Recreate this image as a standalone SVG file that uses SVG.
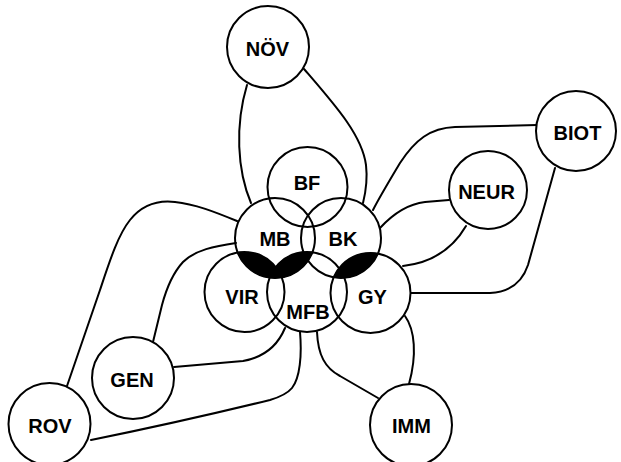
<svg xmlns="http://www.w3.org/2000/svg" width="621" height="462" viewBox="0 0 621 462">
<style>
.c{fill:#fff;stroke:#000;stroke-width:2}
.ci{fill:none;stroke:#000;stroke-width:2}
.e{fill:none;stroke:#000;stroke-width:2;stroke-linecap:round;stroke-linejoin:round}
.t{font-family:"Liberation Sans",Arial,sans-serif;font-weight:bold;font-size:20px;text-anchor:middle;fill:#000}
.d{fill:#000;stroke:#000;stroke-width:1}
</style>
<rect width="621" height="462" fill="#fff"/>
<g id="connectors">
<path class="e" d="M247 85 C235 125 237 170 251 203"/>
<path class="e" d="M304 69 C335 105 362 135 366 165 C368 182 365 195 363 203"/>
<path class="e" d="M537 125 L455 127 C430 128 415 140 400 163 C388 183 378 200 373 210"/>
<path class="e" d="M449 200 L425 202 C408 204 392 215 380 228"/>
<path class="e" d="M466 226 C452 250 430 263 403 266"/>
<path class="e" d="M555 168 L528 265 C522 283 510 292 490 293 L411 293"/>
<path class="e" d="M405 316 C415 330 417 355 409 384"/>
<path class="e" d="M317 332 C318 355 325 368 340 376 L378 398"/>
<path class="e" d="M285 328 C278 345 265 357 243 361 L174 367"/>
<path class="e" d="M300 332 C302 355 300 378 292 388 C287 394 280 397 270 400 Q180 422 91 440"/>
<path class="e" d="M67 386 L100 290 C110 260 118 235 130 220 C142 205 158 200 175 202 C195 204 215 212 237 221"/>
<path class="e" d="M236 243 C215 246 195 250 183 262 C172 274 166 290 162 305 L153 342"/>
</g>
<g id="overlaps">
<path class="d" d="M237.75 252.57 A40 40 0 0 0 312.34 252.36 A40 40 0 0 0 275.75 267.03 A40 40 0 0 0 237.75 252.57 Z"/>
<path class="d" d="M333.7 277.33 A40 40 0 0 0 377.8 253.67 A40 40 0 0 0 333.7 277.33 Z"/>
</g>
<g id="BF"><circle class="ci" cx="307.5" cy="187" r="40"/><text class="t" x="307" y="190">BF</text></g>
<g id="MB"><circle class="ci" cx="275" cy="238" r="40"/><text class="t" x="275" y="246">MB</text></g>
<g id="BK"><circle class="ci" cx="341" cy="238" r="40"/><text class="t" x="343" y="246">BK</text></g>
<g id="VIR"><circle class="ci" cx="244.5" cy="292" r="40"/><text class="t" x="242" y="304">VIR</text></g>
<g id="MFB"><circle class="ci" cx="307" cy="292" r="40"/><text class="t" x="308" y="319">MFB</text></g>
<g id="GY"><circle class="ci" cx="370.5" cy="293" r="40"/><text class="t" x="372.5" y="304">GY</text></g>
<g id="NOV"><circle class="c" cx="268" cy="47" r="41"/><text class="t" x="267.5" y="56">NÖV</text></g>
<g id="BIOT"><circle class="c" cx="576" cy="131" r="40"/><text class="t" x="577.5" y="140">BIOT</text></g>
<g id="NEUR"><circle class="c" cx="488" cy="190" r="39"/><text class="t" x="486.5" y="198.5">NEUR</text></g>
<g id="GEN"><circle class="c" cx="133" cy="378" r="41"/><text class="t" x="132" y="387">GEN</text></g>
<g id="ROV"><circle class="c" cx="49.5" cy="424" r="41"/><text class="t" x="50" y="433">ROV</text></g>
<g id="IMM"><circle class="c" cx="411" cy="425" r="41"/><text class="t" x="411.5" y="433">IMM</text></g>
</svg>
